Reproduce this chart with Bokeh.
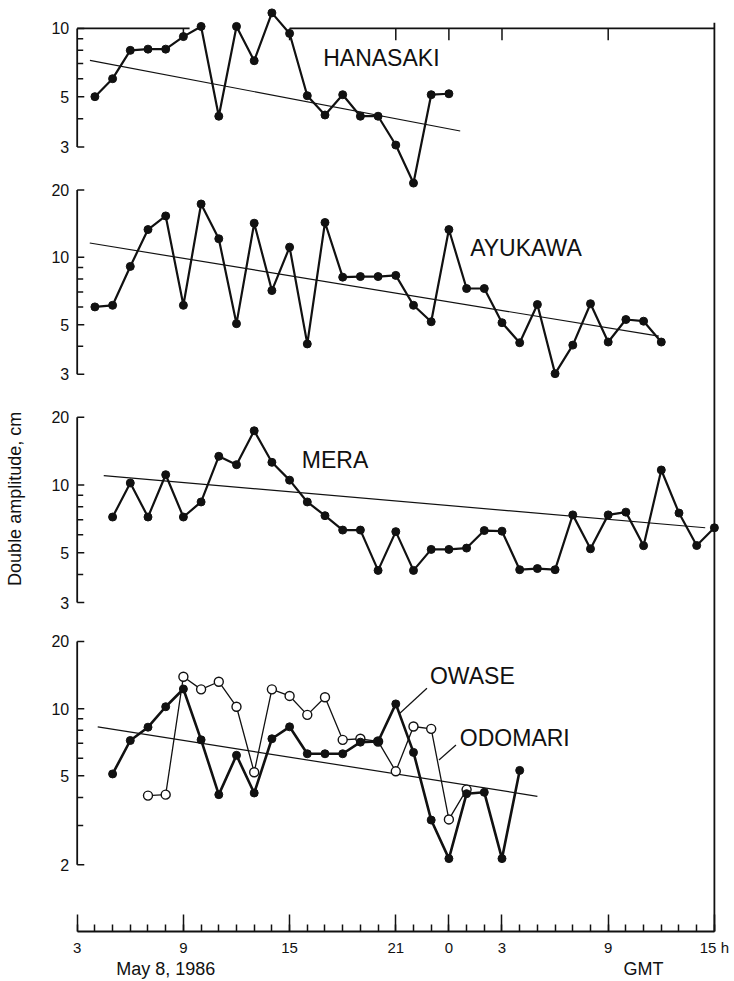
import math
from bokeh.plotting import figure
from bokeh.models import (Range1d, FixedTicker, LinearAxis, LogScale, Label)
from bokeh.core.properties import value
from bokeh.embed import file_html
from bokeh.resources import INLINE

# ---------------- data (hours counted from 00h May 8, 1986 GMT) ----------------
hanasaki_hours = list(range(4, 25))
hanasaki_amp = [5.0, 6.0, 8.0, 8.1, 8.1, 9.2, 10.2, 4.1, 10.2, 7.2, 11.7, 9.5, 5.05,
                4.15, 5.1, 4.1, 4.1, 3.06, 2.08, 5.1, 5.15]
hanasaki_trend_hours = [3.72, 24.64]
hanasaki_trend = [7.23, 3.53]

ayukawa_hours = list(range(4, 37))
ayukawa_amp = [6.0, 6.1, 9.1, 13.3, 15.3, 6.1, 17.3, 12.1, 5.05, 14.2, 7.1, 11.1, 4.1,
               14.3, 8.15, 8.2, 8.2, 8.3, 6.1, 5.15, 13.3, 7.25, 7.25, 5.1, 4.15, 6.15,
               3.02, 4.05, 6.2, 4.18, 5.27, 5.18, 4.18]
ayukawa_trend_hours = [3.71, 35.86]
ayukawa_trend = [11.58, 4.44]

mera_hours = list(range(5, 40))
mera_amp = [7.2, 10.2, 7.2, 11.1, 7.2, 8.4, 13.4, 12.3, 17.4, 12.6, 10.5, 8.4, 7.3, 6.3,
            6.3, 4.17, 6.2, 4.17, 5.17, 5.17, 5.24, 6.27, 6.23, 4.2, 4.25, 4.2, 7.36, 5.2,
            7.36, 7.57, 5.37, 11.65, 7.5, 5.38, 6.45]
mera_trend_hours = [4.5, 38.48]
mera_trend = [10.99, 6.45]

owase_hours = list(range(5, 29))
owase_amp = [5.1, 7.2, 8.26, 10.2, 12.25, 7.25, 4.12, 6.18, 4.19, 7.33, 8.29, 6.28, 6.28,
             6.28, 7.08, 7.13, 10.5, 6.37, 3.17, 2.13, 4.16, 4.22, 2.13, 5.29]
owase_trend_hours = [4.16, 29.0]
owase_trend = [8.29, 4.05]

odomari_hours = list(range(7, 26))
odomari_amp = [4.08, 4.12, 13.9, 12.2, 13.2, 10.2, 5.19, 12.2, 11.4, 9.38, 11.25, 7.25,
               7.33, 7.13, 5.24, 8.32, 8.12, 3.19, 4.34]

# axis ticks
x_major = [3, 9, 15, 21, 24, 27, 33, 39]
x_major_labels = ["3", "9", "15", "21", "0", "3", "9", "15 h"]
x_minor = list(range(3, 40))
top_ticks = [9, 15, 21, 24, 27, 33]
date_label_pos = [8.0, 35.0]
date_labels = ["May 8, 1986", "GMT"]

# panels: name -> (value range of the panel's log scale, axis bounds, major ticks, minor ticks)
panels = {
    "hanasaki": ((0.001045, 13.27), (3, 10), [3, 5, 10], [4, 6, 7, 8, 9]),
    "ayukawa": ((0.00971, 140.4), (3, 20), [3, 5, 10, 20], [4, 6, 7, 8, 9]),
    "mera": ((0.1037, 1420.0), (3, 20), [3, 5, 10, 20], [4, 6, 7, 8, 9]),
    "owase": ((1.0045, 14842.0), (2, 20), [2, 5, 10, 20], [3, 4, 6, 7, 8, 9]),
}

FONT = "Liberation Sans"
INK = "#111111"
AXIS_X = 3          # hour at which every panel's amplitude axis stands
END_X = 39          # hour of the right-hand frame line
TICK_MAJ = 0.40     # tick lengths in hours
TICK_MIN = 0.34
STANDOFF = 0.45

p = figure(width=734, height=981, x_range=Range1d(-1.333, 40.136), y_range=Range1d(0, 1),
           x_axis_location="below", y_axis_location=None, toolbar_location=None,
           output_backend="svg", title=None, min_border_left=0, min_border_right=0,
           min_border_top=0, min_border_bottom=47, background_fill_color="white",
           border_fill_color="white")
p.outline_line_color = None
p.grid.visible = False
p.extra_y_ranges = {k: Range1d(*v[0]) for k, v in panels.items()}
p.extra_y_scales = {k: LogScale() for k in panels}

# ---- amplitude axes of the four panels ----
for name, (_, bounds, major, minor) in panels.items():
    p.segment(x0=[AXIS_X], y0=[bounds[0]], x1=[AXIS_X], y1=[bounds[1]], y_range_name=name,
              line_color=INK, line_width=1.8)
    p.segment(x0=[AXIS_X] * len(major), y0=major, x1=[AXIS_X + TICK_MAJ] * len(major),
              y1=major, y_range_name=name, line_color=INK, line_width=1.5)
    p.segment(x0=[AXIS_X] * len(minor), y0=minor, x1=[AXIS_X + TICK_MIN] * len(minor),
              y1=minor, y_range_name=name, line_color=INK, line_width=1.5)
    p.text(x=[AXIS_X - STANDOFF] * len(major), y=major, text=[str(v) for v in major],
           y_range_name=name, text_align="right", text_baseline="middle",
           text_font=value(FONT), text_font_size="16px", text_color=INK)

# ---- frame: top line (with a gap) and right line ----
p.segment(x0=[AXIS_X, 15], y0=[10, 10], x1=[9.35, END_X], y1=[10, 10],
          y_range_name="hanasaki", line_color=INK, line_width=1.8)
p.segment(x0=top_ticks, y0=[10] * len(top_ticks), x1=top_ticks, y1=[8.86] * len(top_ticks),
          y_range_name="hanasaki", line_color=INK, line_width=1.5)
p.segment(x0=[END_X], y0=[10.6], x1=[END_X], y1=[panels["hanasaki"][0][0]],
          y_range_name="hanasaki", line_color=INK, line_width=1.8)


def series(name, hours, amp, filled=True, lw=2.2):
    p.line(hours, amp, y_range_name=name, line_color=INK, line_width=lw)
    if filled:
        p.scatter(hours, amp, y_range_name=name, marker="circle", size=8,
                  fill_color=INK, line_color=INK)
    else:
        p.scatter(hours, amp, y_range_name=name, marker="circle", size=9,
                  fill_color="white", line_color=INK, line_width=1.4)


def trend(name, hours, amp):
    p.line(hours, amp, y_range_name=name, line_color=INK, line_width=1.2)


def station_label(name, x, y, text):
    p.add_layout(Label(x=x, y=y, y_range_name=name, text=text, text_font=FONT,
                       text_font_size="23px", text_color=INK, text_baseline="middle",
                       text_align="left"))


trend("hanasaki", hanasaki_trend_hours, hanasaki_trend)
series("hanasaki", hanasaki_hours, hanasaki_amp)
station_label("hanasaki", 16.9, 7.38, "HANASAKI")

trend("ayukawa", ayukawa_trend_hours, ayukawa_trend)
series("ayukawa", ayukawa_hours, ayukawa_amp)
station_label("ayukawa", 25.2, 11.03, "AYUKAWA")

trend("mera", mera_trend_hours, mera_trend)
series("mera", mera_hours, mera_amp)
station_label("mera", 15.69, 12.9, "MERA")

trend("owase", owase_trend_hours, owase_trend)
series("owase", odomari_hours, odomari_amp, filled=False, lw=1.3)
series("owase", owase_hours, owase_amp, lw=2.6)
station_label("owase", 22.93, 13.96, "OWASE")
station_label("owase", 24.62, 7.38, "ODOMARI")
p.segment(x0=[22.76, 24.40], y0=[12.34, 6.87], x1=[21.23, 23.44], y1=[9.54, 5.89],
          y_range_name="owase", line_color=INK, line_width=1.2)

# ---- vertical title ----
p.text(x=[-0.49], y=[8.67], text=["Double amplitude, cm"], y_range_name="mera",
       angle=math.pi / 2, text_align="center", text_baseline="middle",
       text_font=value(FONT), text_font_size="18px", text_color=INK)

# ---- time axis ----
xa = p.xaxis[0]
xa.ticker = FixedTicker(ticks=x_major, minor_ticks=x_minor)
xa.major_label_overrides = {t: s for t, s in zip(x_major, x_major_labels)}
xa.bounds = (x_major[0], x_major[-1])
xa.major_tick_in = 17
xa.major_tick_out = 0
xa.minor_tick_in = 7
xa.minor_tick_out = 0
xa.axis_line_width = 1.8
xa.axis_line_color = INK
xa.major_tick_line_width = 1.5
xa.minor_tick_line_width = 1.5
xa.major_tick_line_color = INK
xa.minor_tick_line_color = INK
xa.major_label_text_font = FONT
xa.major_label_text_font_size = "15px"
xa.major_label_text_color = INK
xa.major_label_standoff = 7

xb = LinearAxis(ticker=FixedTicker(ticks=date_label_pos, minor_ticks=[]),
                major_label_overrides={t: s for t, s in zip(date_label_pos, date_labels)},
                axis_line_color=None, major_tick_line_color=None,
                minor_tick_line_color=None, major_tick_in=0, major_tick_out=0,
                minor_tick_in=0, minor_tick_out=0, major_label_standoff=0,
                major_label_text_font=FONT, major_label_text_font_size="18px",
                major_label_text_color=INK)
p.add_layout(xb, "below")

open("out.html", "w").write(file_html(p, INLINE))
